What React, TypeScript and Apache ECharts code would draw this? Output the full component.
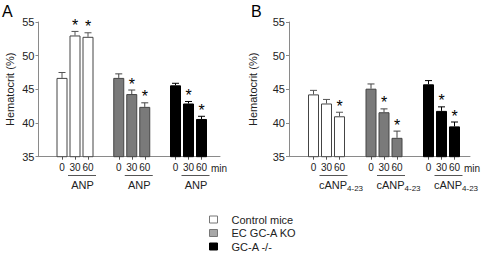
import React, { useEffect, useRef } from 'react';
import * as echarts from 'echarts';

// ---- data ----
const minuteLabels = ['0', '30', '60'];
const groupNames = ['Control mice', 'EC GC-A KO', 'GC-A -/-'];
const yTicks = [35, 40, 45, 50, 55];

// Panel A (ANP)
const anpControl = [46.7, 53.0, 52.8];
const anpControlErr = [0.8, 0.6, 0.6];
const anpControlSig = [0, 1, 1];
const anpEcKo = [46.7, 44.3, 42.4];
const anpEcKoErr = [0.6, 0.6, 0.6];
const anpEcKoSig = [0, 1, 1];
const anpGcaKo = [45.6, 42.9, 40.6];
const anpGcaKoErr = [0.3, 0.3, 0.4];
const anpGcaKoSig = [0, 1, 1];

// Panel B (cANP4-23)
const canpControl = [44.25, 42.9, 41.0];
const canpControlErr = [0.6, 0.6, 0.6];
const canpControlSig = [0, 0, 1];
const canpEcKo = [45.1, 41.6, 37.8];
const canpEcKoErr = [0.7, 0.5, 1.0];
const canpEcKoSig = [0, 1, 1];
const canpGcaKo = [45.75, 41.8, 39.5];
const canpGcaKoErr = [0.55, 0.6, 0.65];
const canpGcaKoSig = [0, 1, 1];

// ---- styles ----
const FONT = 'Liberation Sans, Arial, Helvetica, sans-serif';
const TEXT = '#222';
const AXIS = '#8a8a8a';
const fillColors = ['#ffffff', '#7a7a7a', '#000000'];
const borderColors = ['#444444', '#444444', '#000000'];
const errColors = ['#555555', '#444444', '#000000'];
const legendColors = ['#ffffff', '#a8a8a8', '#000000'];

const PLOT_TOP = 22;
const PLOT_H = 134.7;
const GROUP_W = 39;
const BAR_W = 11;

interface Panel {
  letter: string;
  axisX: number;
  axisRight: number;
  nameGap: number;
  groupLefts: number[];
  values: number[][];
  errs: number[][];
  sigs: number[][];
  treatment: 'ANP' | 'cANP';
}

const panels: Panel[] = [
  {
    letter: 'A',
    axisX: 38.5,
    axisRight: 220,
    nameGap: 23,
    groupLefts: [55.5, 112.25, 169],
    values: [anpControl, anpEcKo, anpGcaKo],
    errs: [anpControlErr, anpEcKoErr, anpGcaKoErr],
    sigs: [anpControlSig, anpEcKoSig, anpGcaKoSig],
    treatment: 'ANP',
  },
  {
    letter: 'B',
    axisX: 289,
    axisRight: 470,
    nameGap: 31,
    groupLefts: [307, 364.5, 422],
    values: [canpControl, canpEcKo, canpGcaKo],
    errs: [canpControlErr, canpEcKoErr, canpGcaKoErr],
    sigs: [canpControlSig, canpEcKoSig, canpGcaKoSig],
    treatment: 'cANP',
  },
];

function buildOption() {
  const grid: any[] = [];
  const xAxis: any[] = [];
  const yAxis: any[] = [];
  const series: any[] = [];
  const graphic: any[] = [];

  panels.forEach((p, pi) => {
    // main axes grid
    const gi = grid.length;
    grid.push({ left: p.axisX, top: PLOT_TOP, width: p.axisRight - p.axisX, height: PLOT_H });
    xAxis.push({
      gridIndex: gi,
      type: 'value',
      min: 0,
      max: 1,
      axisLine: { show: true, onZero: false, lineStyle: { color: AXIS, width: 1 } },
      axisTick: { show: false },
      axisLabel: { show: false },
      splitLine: { show: false },
    });
    yAxis.push({
      gridIndex: gi,
      type: 'value',
      min: yTicks[0],
      max: yTicks[yTicks.length - 1],
      interval: 5,
      name: 'Hematocrit (%)',
      nameLocation: 'middle',
      nameGap: p.nameGap,
      nameTextStyle: { fontSize: 11, color: TEXT, fontFamily: FONT },
      axisLine: { show: true, lineStyle: { color: AXIS, width: 1 } },
      axisTick: { show: true, length: 3, lineStyle: { color: AXIS } },
      axisLabel: { fontSize: 11, color: TEXT, fontFamily: FONT, margin: 4 },
      splitLine: { show: false },
    });

    // group grids
    p.groupLefts.forEach((left, k) => {
      const g = grid.length;
      grid.push({ left, top: PLOT_TOP, width: GROUP_W, height: PLOT_H });
      xAxis.push({
        gridIndex: g,
        type: 'category',
        data: minuteLabels,
        axisLine: { show: false },
        axisTick: { show: true, alignWithLabel: true, length: 3, lineStyle: { color: '#555' } },
        axisLabel: { fontSize: 10, color: TEXT, fontFamily: FONT, margin: 6, interval: 0 },
        splitLine: { show: false },
      });
      yAxis.push({
        gridIndex: g,
        type: 'value',
        min: yTicks[0],
        max: yTicks[yTicks.length - 1],
        show: false,
      });
      series.push({
        type: 'bar',
        name: groupNames[k],
        xAxisIndex: g,
        yAxisIndex: g,
        barWidth: BAR_W,
        data: p.values[k],
        itemStyle: { color: fillColors[k], borderColor: borderColors[k], borderWidth: 1 },
        silent: true,
      });
      const errColor = errColors[k];
      series.push({
        type: 'custom',
        xAxisIndex: g,
        yAxisIndex: g,
        clip: false,
        silent: true,
        data: p.values[k].map((v, i) => [i, v, p.errs[k][i], p.sigs[k][i]]),
        renderItem: (params: any, api: any) => {
          const x = api.value(0);
          const m = api.value(1);
          const e = api.value(2);
          const s = api.value(3);
          const p0 = api.coord([x, m]);
          const p1 = api.coord([x, m + e]);
          const children: any[] = [
            { type: 'line', shape: { x1: p0[0], y1: p0[1], x2: p1[0], y2: p1[1] }, style: { stroke: errColor, lineWidth: 1 } },
            { type: 'line', shape: { x1: p1[0] - 3.5, y1: p1[1], x2: p1[0] + 3.5, y2: p1[1] }, style: { stroke: errColor, lineWidth: 1 } },
          ];
          if (s) {
            children.push({
              type: 'text',
              x: p1[0],
              y: p1[1] - 6,
              style: { text: '*', fontSize: 16, fontFamily: FONT, fill: '#000', align: 'center', verticalAlign: 'middle' },
            });
          }
          return { type: 'group', children };
        },
      });

      // underline + treatment label
      const c30 = left + GROUP_W / 2;
      const c60 = left + (GROUP_W * 5) / 6;
      graphic.push({
        type: 'line',
        shape: { x1: c30 - 7, y1: 175.5, x2: c60 + 8, y2: 175.5 },
        style: { stroke: '#555', lineWidth: 1 },
        silent: true,
      });
      if (p.treatment === 'ANP') {
        graphic.push({
          type: 'text',
          x: (c30 + c60) / 2 + 1,
          y: 185,
          style: { text: 'ANP', fontSize: 11, fontFamily: FONT, fill: TEXT, align: 'center', verticalAlign: 'middle' },
          silent: true,
        });
      } else {
        graphic.push({
          type: 'text',
          x: (c30 + c60) / 2 + 8,
          y: 185,
          style: {
            text: '{a|cANP}{b|4-23}',
            align: 'center',
            verticalAlign: 'middle',
            rich: {
              a: { fontSize: 11, fontFamily: FONT, fill: TEXT, color: TEXT, lineHeight: 14 },
              b: { fontSize: 8, fontFamily: FONT, fill: TEXT, color: TEXT, lineHeight: 9, verticalAlign: 'bottom' },
            },
          },
          silent: true,
        });
      }
      if (k === 2) {
        graphic.push({
          type: 'text',
          x: left + GROUP_W + 3,
          y: 168,
          style: { text: 'min', fontSize: 10, fontFamily: FONT, fill: TEXT, align: 'left', verticalAlign: 'middle' },
          silent: true,
        });
      }
    });

    graphic.push({
      type: 'text',
      x: pi === 0 ? 2 : 251,
      y: 3,
      style: { text: p.letter, fontSize: 16, fontFamily: FONT, fill: '#000', align: 'left', verticalAlign: 'top' },
      silent: true,
    });
  });

  return {
    animation: false,
    backgroundColor: '#ffffff',
    grid,
    xAxis,
    yAxis,
    series,
    graphic,
    legend: {
      orient: 'vertical',
      left: 209,
      top: 214,
      padding: 0,
      itemWidth: 8,
      itemHeight: 7,
      itemGap: 2.5,
      icon: 'rect',
      selectedMode: false,
      textStyle: { fontSize: 11, color: TEXT, fontFamily: FONT, padding: [0, 0, 0, 9] },
      data: groupNames.map((n, k) => ({
        name: n,
        itemStyle: { color: legendColors[k], borderColor: k === 2 ? '#000' : '#777', borderWidth: 1 },
      })),
    },
  };
}

export default function App() {
  const ref = useRef<HTMLDivElement>(null);
  useEffect(() => {
    if (!ref.current) return;
    const chart = echarts.init(ref.current, undefined, { renderer: 'svg' });
    chart.setOption(buildOption() as any);
    return () => chart.dispose();
  }, []);
  return (
    <div
      ref={ref}
      style={{ position: 'fixed', left: 0, top: 0, width: 481, height: 259, background: '#fff' }}
    />
  );
}
